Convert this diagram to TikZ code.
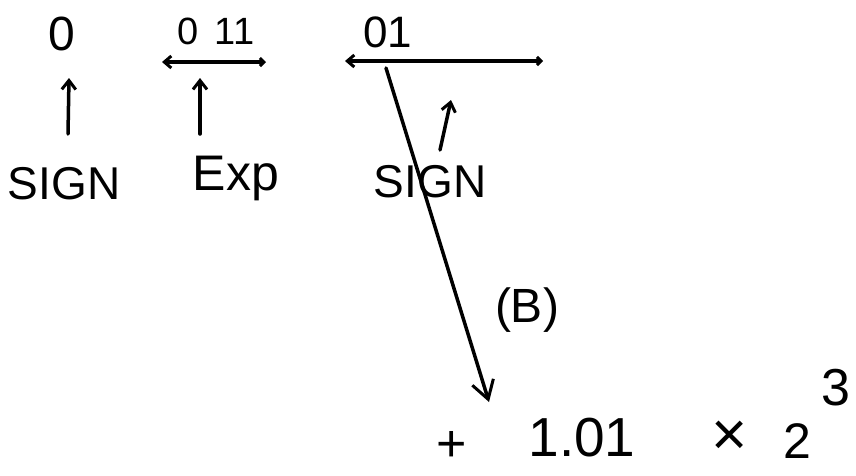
\documentclass[tikz,border=0pt]{standalone}
\usepackage{fontspec}
\setmainfont{Liberation Sans}
\usetikzlibrary{arrows.meta,positioning}

\begin{document}
\begin{tikzpicture}[x=1pt, y=-1pt, line width=3.5pt, line cap=round,
  every node/.style={inner sep=0pt},
  upar/.style={-{Straight Barb[length=9pt,width=14pt,line width=3pt]}},
  barar/.style={{Straight Barb[length=7pt,width=12pt,line width=3pt]}-{Straight Barb[length=4pt,width=8pt,line width=3pt]}}]
\useasboundingbox (0,0) rectangle (856,475);
% sign bit
\node[font=\fontsize{48}{48}\selectfont] (sbit) at (62,34) {0};
\node[font=\fontsize{46}{46}\selectfont] (signA) at (64,184) {SIGN};
\coordinate (sa1) at (68,134);
\coordinate (sa2) at (69,78);
\draw[upar] (sa1) -- (sa2);
% exponent
\node[font=\fontsize{38}{38}\selectfont] (ebits) at (216,31) {0\hspace{16pt}11};
\coordinate (eL) at (162,62);
\coordinate (eR) at (266,62);
\draw[barar] (eL) -- (eR);
\node[font=\fontsize{50}{50}\selectfont] (expLab) at (236,178) {Exp};
\coordinate (ea1) at (200,134);
\coordinate (ea2) at (200,78);
\draw[upar] (ea1) -- (ea2);
% fraction
\node[font=\fontsize{44}{44}\selectfont] (fbits) at (388,32) {01};
\coordinate (fL) at (345,61);
\coordinate (fR) at (543,61);
\draw[barar] (fL) -- (fR);
\node[font=\fontsize{46}{46}\selectfont] (signB) at (430,182) {SIGN};
\coordinate (fa1) at (440,150);
\coordinate (fa2) at (451,100);
\draw[upar] (fa1) -- (fa2);
% result
\coordinate (ft) at (386,68);
\coordinate (fb) at (489,402);
\draw[-{Straight Barb[length=18pt,width=22pt,line width=3pt]}] (ft) -- (fb);
\node[font=\fontsize{48}{48}\selectfont] (mark) at (527,310) {(B)};
\node[font=\fontsize{52}{52}\selectfont] (plus) at (452,446) {+};
\node[font=\fontsize{55}{55}\selectfont] (mant) at (582,438) {1.01};
\node[font=\fontsize{62}{62}\selectfont] (times) at (730,438) {×};
\node[font=\fontsize{50}{50}\selectfont] (base) at (797,441) {2};
\node[font=\fontsize{52}{52}\selectfont] (pow) at (836,388) {3};
\end{tikzpicture}
\end{document}
